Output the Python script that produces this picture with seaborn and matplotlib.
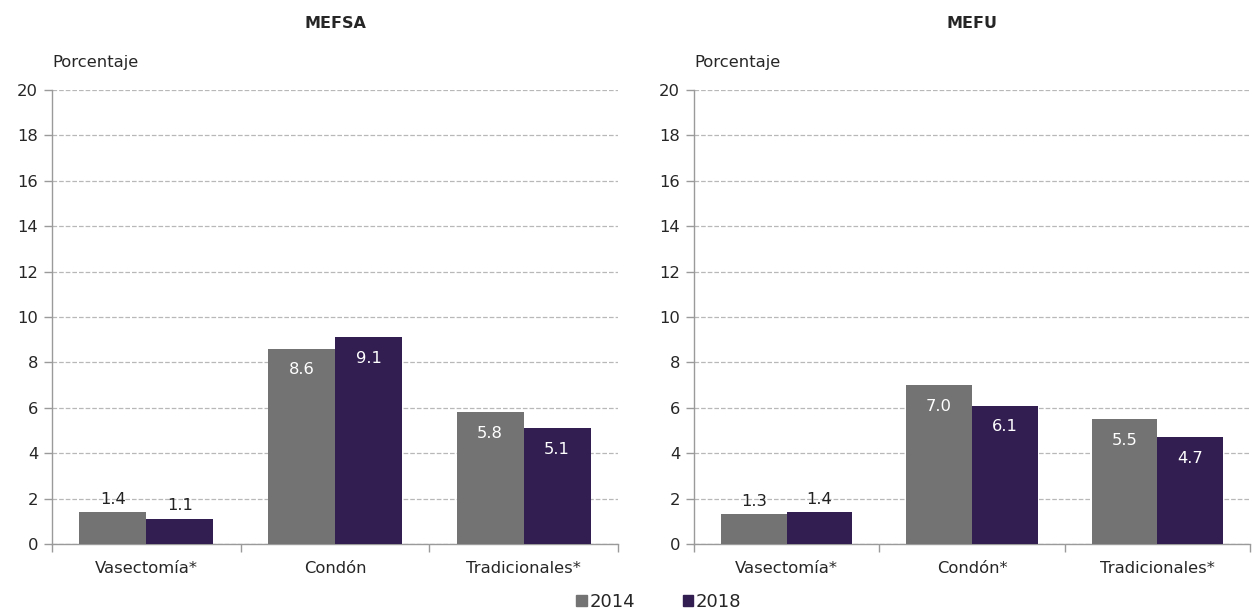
import pandas as pd
import seaborn as sns
import matplotlib.pyplot as plt

# Datos
categorias_mefsa = ['Vasectomía*', 'Condón', 'Tradicionales*']
categorias_mefu = ['Vasectomía*', 'Condón*', 'Tradicionales*']
mefsa_2014 = [1.4, 8.6, 5.8]
mefsa_2018 = [1.1, 9.1, 5.1]
mefu_2014 = [1.3, 7.0, 5.5]
mefu_2018 = [1.4, 6.1, 4.7]
anios = ['2014', '2018']
colores = ['#737373', '#321E50']

sns.set_style('white')
plt.rcParams['font.family'] = ['DejaVu Sans']


def tabla(cats, v14, v18):
    return pd.DataFrame({
        'categoria': cats * 2,
        'anio': [anios[0]] * 3 + [anios[1]] * 3,
        'valor': v14 + v18,
    })


fig = plt.figure(figsize=(12.52, 6.11), dpi=100)
ax1 = fig.add_axes([52 / 1252, 1 - 544 / 611, 566 / 1252, 454 / 611])
ax2 = fig.add_axes([694 / 1252, 1 - 544 / 611, 556 / 1252, 454 / 611])

paneles = [
    (ax1, 'MEFSA', tabla(categorias_mefsa, mefsa_2014, mefsa_2018)),
    (ax2, 'MEFU', tabla(categorias_mefu, mefu_2014, mefu_2018)),
]

fs = 11.8

for ax, titulo, df in paneles:
    sns.barplot(data=df, x='categoria', y='valor', hue='anio', palette=colores,
                width=0.71, saturation=1, linewidth=0, ax=ax, legend=False, zorder=3)
    ax.set_ylim(0, 20)
    ax.set_xlim(-0.5, 2.5)
    ax.set_yticks(range(0, 21, 2))
    ax.yaxis.grid(True, linestyle='--', color='#b8b8b8', linewidth=0.9, zorder=0)
    ax.set_axisbelow(True)
    for s in ['top', 'right']:
        ax.spines[s].set_visible(False)
    for s in ['left', 'bottom']:
        ax.spines[s].set_color('#9a9a9a')
        ax.spines[s].set_linewidth(1)
    ax.tick_params(axis='y', left=True, length=6, width=1, color='#9a9a9a',
                   labelsize=fs, pad=4)
    ax.tick_params(axis='x', which='major', bottom=False, labelsize=fs, pad=9)
    ax.set_xticks([-0.5, 0.5, 1.5, 2.5], minor=True)
    ax.tick_params(axis='x', which='minor', bottom=True, length=6, width=1,
                   color='#9a9a9a')
    ax.set_xlabel('')
    ax.set_ylabel('')
    ax.text(0, 1.06, 'Porcentaje', transform=ax.transAxes, fontsize=fs,
            ha='left', va='center')
    ax.set_title(titulo, fontsize=11.5, fontweight='bold', pad=45)

    for cont in ax.containers:
        for barra in cont:
            h = barra.get_height()
            xc = barra.get_x() + barra.get_width() / 2
            if h >= 3:
                ax.text(xc, h - 0.6, f'{h:.1f}', ha='center', va='top',
                        color='white', fontsize=fs, zorder=4)
            else:
                ax.text(xc, h + 0.25, f'{h:.1f}', ha='center', va='bottom',
                        color='#222222', fontsize=fs, zorder=4)

handles = [plt.Rectangle((0, 0), 1, 1, color=c) for c in colores]
fig.legend(handles, anios, loc='center', bbox_to_anchor=(659 / 1252, 1 - 602 / 611),
           ncol=2, frameon=False, fontsize=13, handlelength=0.6, handleheight=0.6,
           handletextpad=0.15, columnspacing=2.6)

fig.savefig('out.png', dpi=100)
